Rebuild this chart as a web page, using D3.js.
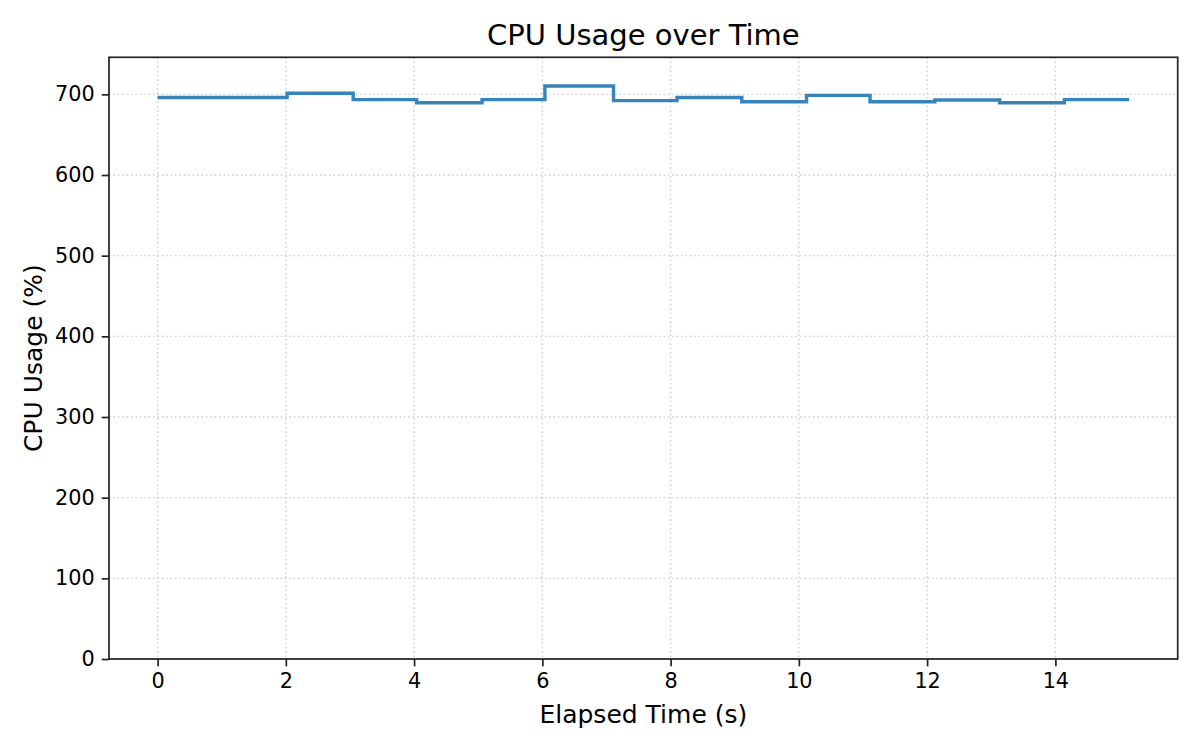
<!DOCTYPE html>
<html>
<head>
<meta charset="utf-8">
<script src="https://cdn.jsdelivr.net/npm/d3@7"></script>
<style>
  html, body { margin: 0; padding: 0; background: #fff; }
  svg { display: block; font-family: "DejaVu Sans", sans-serif; }
</style>
</head>
<body>
<div id="chart"></div>
<script>
// ── Data ──────────────────────────────────────────────────────────────────
const elapsedTimes = [0, 2.02, 3.05, 4.04, 5.06, 6.04, 7.11, 8.10, 9.11, 10.12, 11.11, 12.12, 13.13, 14.14, 15.15];
const cpuUsage = [696.1, 701.3, 693.5, 689.6, 693.5, 710.4, 692.2, 696.1, 690.9, 698.7, 690.9, 693.0, 689.6, 693.5, 693.5];
const xTicks = [0, 2, 4, 6, 8, 10, 12, 14];
const yTicks = [0, 100, 200, 300, 400, 500, 600, 700];

const points = elapsedTimes.map((t, i) => ({ t, v: cpuUsage[i] }));

// ── Layout ────────────────────────────────────────────────────────────────
const width = 1200, height = 750;
const margin = { top: 57.3, right: 22.3, bottom: 91, left: 109 };
const innerW = width - margin.left - margin.right;
const innerH = height - margin.top - margin.bottom;

const svg = d3.select('#chart').append('svg')
    .attr('width', width)
    .attr('height', height);

const g = svg.append('g')
    .attr('transform', `translate(${margin.left},${margin.top})`);

// matplotlib-like 5% margins on x, y from 0 to max * 1.05
const xMax = d3.max(elapsedTimes);
const xPad = xMax * 0.05;
const x = d3.scaleLinear().domain([-xPad, xMax + xPad]).range([0, innerW]);
const y = d3.scaleLinear().domain([0, d3.max(cpuUsage) * 1.05]).range([innerH, 0]);

// ── Grid ──────────────────────────────────────────────────────────────────
const gridStyle = sel => sel
    .attr('stroke', '#b0b0b0')
    .attr('stroke-opacity', 0.6)
    .attr('stroke-width', 1.4)
    .attr('stroke-dasharray', '1.6,2.8');

g.append('g').selectAll('line')
    .data(xTicks)
    .join('line')
    .attr('x1', d => x(d)).attr('x2', d => x(d))
    .attr('y1', 0).attr('y2', innerH)
    .call(gridStyle);

g.append('g').selectAll('line')
    .data(yTicks)
    .join('line')
    .attr('x1', 0).attr('x2', innerW)
    .attr('y1', d => y(d)).attr('y2', d => y(d))
    .call(gridStyle);

// ── Step line ─────────────────────────────────────────────────────────────
const line = d3.line()
    .x(d => x(d.t))
    .y(d => y(d.v))
    .curve(d3.curveStepAfter);

g.append('path')
    .datum(points)
    .attr('fill', 'none')
    .attr('stroke', '#1f77b4')
    .attr('stroke-opacity', 0.9)
    .attr('stroke-width', 3.4)
    .attr('d', line);

// ── Axes ──────────────────────────────────────────────────────────────────
const xAxis = g.append('g')
    .attr('transform', `translate(0,${innerH})`)
    .call(d3.axisBottom(x).tickValues(xTicks).tickSize(7.3).tickPadding(7).tickFormat(d3.format('d')));

const yAxis = g.append('g')
    .call(d3.axisLeft(y).tickValues(yTicks).tickSize(7.3).tickPadding(7).tickFormat(d3.format('d')));

[xAxis, yAxis].forEach(ax => {
    ax.select('.domain').remove();
    ax.selectAll('.tick line').attr('stroke', '#222').attr('stroke-width', 1.7);
    ax.selectAll('.tick text')
        .attr('fill', '#000')
        .style('font-size', '20.8px')
        .style('font-family', '"DejaVu Sans", sans-serif');
});

// frame
g.append('rect')
    .attr('x', 0).attr('y', 0)
    .attr('width', innerW).attr('height', innerH)
    .attr('fill', 'none')
    .attr('stroke', '#222')
    .attr('stroke-width', 1.7);

// ── Labels ────────────────────────────────────────────────────────────────
svg.append('text')
    .attr('x', margin.left + innerW / 2)
    .attr('y', 44.5)
    .attr('text-anchor', 'middle')
    .style('font-size', '29px')
    .text('CPU Usage over Time');

svg.append('text')
    .attr('x', margin.left + innerW / 2)
    .attr('y', 723)
    .attr('text-anchor', 'middle')
    .style('font-size', '25px')
    .text('Elapsed Time (s)');

svg.append('text')
    .attr('transform', `translate(42,${margin.top + innerH / 2}) rotate(-90)`)
    .attr('text-anchor', 'middle')
    .style('font-size', '25px')
    .text('CPU Usage (%)');
</script>
</body>
</html>
